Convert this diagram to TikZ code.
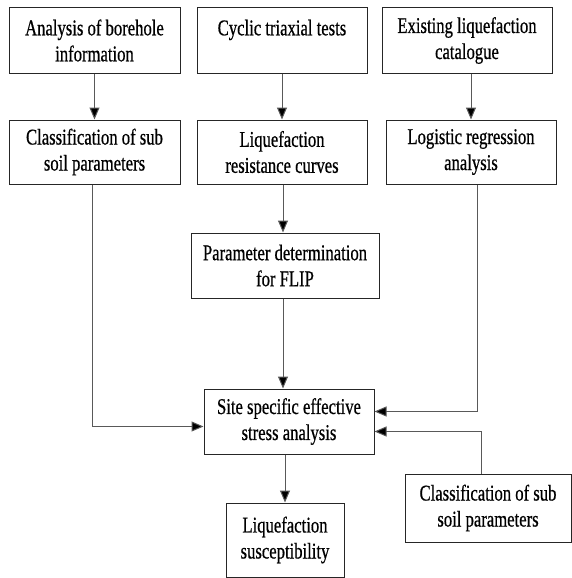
\documentclass[tikz,border=0pt]{standalone}
\usepackage{fontspec}
\setmainfont{Liberation Serif}[FakeStretch=0.74,FakeBold=0.6]
\usetikzlibrary{arrows.meta}
\tikzset{box/.style={draw=black!85,line width=1pt,align=center,inner sep=0pt,
  font=\fontsize{22.5}{26}\selectfont}}
\tikzset{flow/.style={draw=black!65,line width=1pt,-{Triangle[length=12pt,width=10pt,fill=black]}}}

\begin{document}
\begin{tikzpicture}[x=1pt,y=-1pt]
          \useasboundingbox (0,0) rectangle (572,578);
          \node[box,minimum width=171pt,minimum height=65pt] (bore) at (94.5,40.5) {Analysis of borehole\\information};
          \node[box,minimum width=170pt,minimum height=65pt] (cyclic) at (282,40.5) {Cyclic triaxial tests\\~};
          \node[box,minimum width=170pt,minimum height=65pt] (catalog) at (467,40.5) {Existing liquefaction\\catalogue};
          \node[box,minimum width=171pt,minimum height=64pt] (subsoil) at (94.5,152) {Classification of sub\\soil parameters};
          \node[box,minimum width=170pt,minimum height=64pt] (curves) at (282,152) {Liquefaction\\resistance curves};
          \node[box,minimum width=170pt,minimum height=64pt] (logit) at (471,152) {Logistic regression\\analysis};
          \node[box,minimum width=188pt,minimum height=65pt] (flip) at (285,265.5) {Parameter determination\\for FLIP};
          \node[box,minimum width=170pt,minimum height=65pt] (site) at (289,421.5) {Site specific effective\\stress analysis};
          \node[box,minimum width=118pt,minimum height=74pt] (susc) at (285,540) {Liquefaction\\susceptibility};
          \node[box,minimum width=166pt,minimum height=68pt] (subsoil2) at (488,508) {Classification of sub\\soil parameters};
          % vertical flow
          \draw[flow] (bore) -- (subsoil);
          \draw[flow] (cyclic) -- (curves);
          \draw[flow] ([xshift=4pt]catalog.south) -- ([xshift=4pt]catalog.south |- logit.north);
          \draw[flow] ([xshift=1pt]curves.south) -- ([xshift=1pt]curves.south |- flip.north);
          \draw[flow] ([xshift=-2pt]flip.south) -- ([xshift=-2pt]flip.south |- site.north);
          \draw[flow] (site.south -| susc) -- (susc);
          % side inputs
          \draw[flow] ([xshift=-2pt]subsoil.south) |- ([yshift=-5pt]site.west);
          \draw[flow] ([xshift=6pt]logit.south) |- ([yshift=10pt]site.east);
          \draw[flow] ([xshift=-7pt]subsoil2.north) |- ([yshift=-10pt]site.east);
        \end{tikzpicture}
\end{document}
